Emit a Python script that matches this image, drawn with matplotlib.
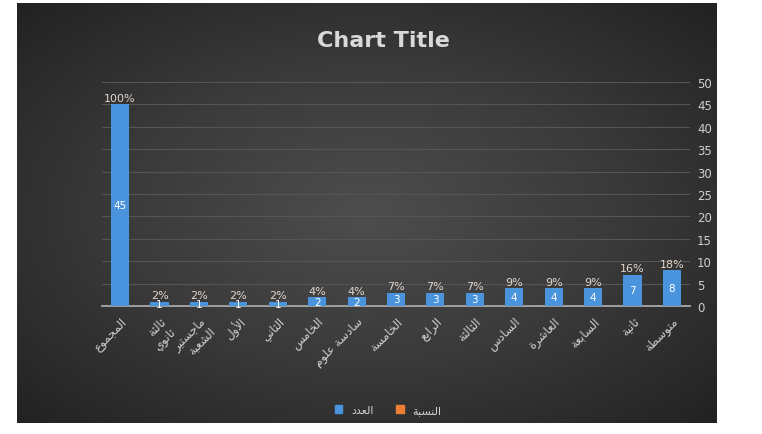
import numpy as np
import matplotlib
matplotlib.use("Agg")
import matplotlib.pyplot as plt
from matplotlib.colors import LinearSegmentedColormap
from matplotlib.patches import Patch

# data
categories = ["المجموع", "ثالثة\nثانوي", "ماجستير\nالشعبة", "الأول", "الثاني",
              "الخامس", "سادسة علوم", "الخامسة", "الرابع", "الثالثة",
              "السادس", "العاشرة", "السابعة", "ثانية", "متوسطة"]
counts = [45, 1, 1, 1, 1, 2, 2, 3, 3, 3, 4, 4, 4, 7, 8]
percents = [100, 2, 2, 2, 2, 4, 4, 7, 7, 7, 9, 9, 9, 16, 18]
series_names = ["العدد", "النسبة"]
yticks = list(range(0, 55, 5))

BLUE = "#4a94de"
ORANGE = "#ed7d31"
TXT = "#cfcfcf"

# --- tiny arabic shaper (matplotlib has no complex text layout) ---
FORMS = {
    "ا": (0xFE8D, 0xFE8E), "أ": (0xFE83, 0xFE84), "إ": (0xFE87, 0xFE88), "آ": (0xFE81, 0xFE82),
    "ب": (0xFE8F, 0xFE90, 0xFE91, 0xFE92), "ة": (0xFE93, 0xFE94),
    "ت": (0xFE95, 0xFE96, 0xFE97, 0xFE98), "ث": (0xFE99, 0xFE9A, 0xFE9B, 0xFE9C),
    "ج": (0xFE9D, 0xFE9E, 0xFE9F, 0xFEA0), "ح": (0xFEA1, 0xFEA2, 0xFEA3, 0xFEA4),
    "خ": (0xFEA5, 0xFEA6, 0xFEA7, 0xFEA8), "د": (0xFEA9, 0xFEAA), "ذ": (0xFEAB, 0xFEAC),
    "ر": (0xFEAD, 0xFEAE), "ز": (0xFEAF, 0xFEB0),
    "س": (0xFEB1, 0xFEB2, 0xFEB3, 0xFEB4), "ش": (0xFEB5, 0xFEB6, 0xFEB7, 0xFEB8),
    "ص": (0xFEB9, 0xFEBA, 0xFEBB, 0xFEBC), "ض": (0xFEBD, 0xFEBE, 0xFEBF, 0xFEC0),
    "ط": (0xFEC1, 0xFEC2, 0xFEC3, 0xFEC4), "ظ": (0xFEC5, 0xFEC6, 0xFEC7, 0xFEC8),
    "ع": (0xFEC9, 0xFECA, 0xFECB, 0xFECC), "غ": (0xFECD, 0xFECE, 0xFECF, 0xFED0),
    "ف": (0xFED1, 0xFED2, 0xFED3, 0xFED4), "ق": (0xFED5, 0xFED6, 0xFED7, 0xFED8),
    "ك": (0xFED9, 0xFEDA, 0xFEDB, 0xFEDC), "ل": (0xFEDD, 0xFEDE, 0xFEDF, 0xFEE0),
    "م": (0xFEE1, 0xFEE2, 0xFEE3, 0xFEE4), "ن": (0xFEE5, 0xFEE6, 0xFEE7, 0xFEE8),
    "ه": (0xFEE9, 0xFEEA, 0xFEEB, 0xFEEC), "و": (0xFEED, 0xFEEE), "ى": (0xFEEF, 0xFEF0),
    "ي": (0xFEF1, 0xFEF2, 0xFEF3, 0xFEF4), "ئ": (0xFE89, 0xFE8A, 0xFE8B, 0xFE8C),
    "ؤ": (0xFE85, 0xFE86),
}
LAMALEF = {"ا": (0xFEFB, 0xFEFC), "أ": (0xFEF7, 0xFEF8),
           "إ": (0xFEF9, 0xFEFA), "آ": (0xFEF5, 0xFEF6)}


def shape_line(s):
    units = []
    i = 0
    while i < len(s):
        c = s[i]
        if c == "ل" and i + 1 < len(s) and s[i + 1] in LAMALEF:
            units.append(("LA", LAMALEF[s[i + 1]]))
            i += 2
        else:
            units.append((c, FORMS.get(c)))
            i += 1
    out = []
    for k, (c, f) in enumerate(units):
        if f is None:
            out.append(c)
            continue
        prev = units[k - 1][1] if k > 0 else None
        nxt = units[k + 1][1] if k + 1 < len(units) else None
        join_prev = prev is not None and len(prev) == 4 and units[k - 1][0] != "LA"
        join_next = len(f) == 4 and nxt is not None
        if join_prev and join_next:
            g = f[3]
        elif join_prev:
            g = f[1]
        elif join_next:
            g = f[2]
        else:
            g = f[0]
        out.append(chr(g))
    return "".join(out)[::-1]


def ar(s):
    return "\n".join(shape_line(line) for line in s.split("\n"))


W, H = 762, 435
fig = plt.figure(figsize=(W / 100, H / 100), dpi=100)
fig.patch.set_facecolor("white")

# dark radial background of the chart area
bx0, by0, bx1, by1 = 17, 4, 717, 424
bg = fig.add_axes([bx0 / W, 1 - by1 / H, (bx1 - bx0) / W, (by1 - by0) / H], zorder=0)
yy, xx = np.mgrid[-1:1:220j, -1:1:380j]
r = np.sqrt(xx ** 2 + yy ** 2) / np.sqrt(2)
cmap = LinearSegmentedColormap.from_list("bg", ["#4d4d4d", "#3a3a3a", "#222222"])
bg.imshow(r, cmap=cmap, aspect="auto", extent=(0, 1, 0, 1))
bg.set_axis_off()

# plot area
px0, px1, py0, py1 = 102, 690, 83, 307
ax = fig.add_axes([px0 / W, 1 - py1 / H, (px1 - px0) / W, (py1 - py0) / H], zorder=1)
ax.patch.set_alpha(0)

x = np.arange(len(categories))
bw = 0.46
ax.bar(x, [p / 100 for p in percents], width=bw, color=ORANGE, zorder=2)
ax.bar(x, counts, width=bw, color=BLUE, zorder=3)

ax.set_xlim(-0.46, len(categories) - 1 + 0.46)
ax.set_ylim(0, 50)
ax.set_yticks(yticks)
ax.yaxis.tick_right()
ax.tick_params(axis="y", length=0, pad=5, labelsize=8.5, colors=TXT)
ax.tick_params(axis="x", length=0, pad=6)
ax.set_xticks(x)
ax.set_xticklabels([ar(c) for c in categories], rotation=45, ha="right", va="top",
                   rotation_mode="anchor", fontsize=8.5, color=TXT, linespacing=1.1)
ax.grid(axis="y", color="#555555", lw=0.8, zorder=0)
ax.set_axisbelow(True)
for side in ["left", "right", "top"]:
    ax.spines[side].set_visible(False)
ax.spines["bottom"].set_color("#a8a8a8")
ax.spines["bottom"].set_linewidth(1.3)

for xi, c, p in zip(x, counts, percents):
    ax.text(xi, c / 2, str(c), ha="center", va="center", fontsize=7.5, color="white", zorder=4)
    ax.text(xi, c + 0.3, f"{p}%", ha="center", va="bottom", fontsize=8, color="#e2d6cc", zorder=4)

fig.text(383 / W, 1 - 41 / H, "Chart Title", ha="center", va="center",
         fontsize=16, fontweight="bold", color="#d9d9d9")

handles = [Patch(color=BLUE), Patch(color=ORANGE)]
fig.legend(handles, [ar(s) for s in series_names], loc="center",
           bbox_to_anchor=(388 / W, 1 - 411 / H), ncol=2, frameon=False,
           fontsize=8, labelcolor=TXT, handlelength=0.7, handleheight=0.7,
           columnspacing=2.0, handletextpad=0.8)

fig.savefig("out.png", dpi=100)
